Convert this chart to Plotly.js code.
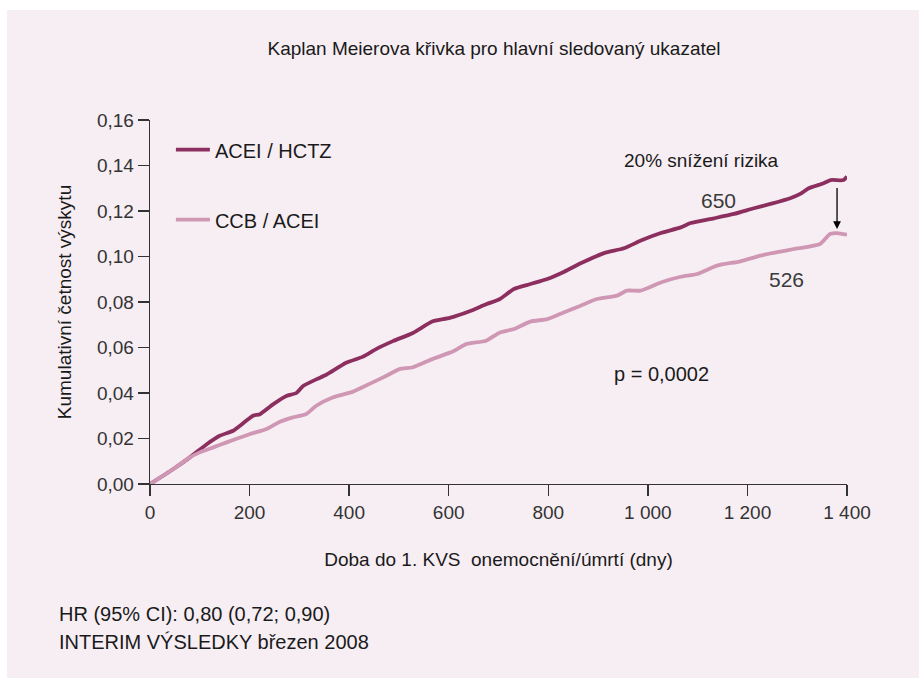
<!DOCTYPE html>
<html>
<head>
<meta charset="utf-8">
<script src="https://cdn.plot.ly/plotly-3.0.1.min.js"></script>
<style>
html,body{margin:0;padding:0;background:#ffffff;}
#chart{position:absolute;left:7px;top:10px;width:912px;height:668px;}
</style>
</head>
<body>
<div id="chart"></div>
<script>
// ---- data ----
const seriesNames = ["ACEI / HCTZ", "CCB / ACEI"];
const seriesColors = ["#8c2f5f", "#cf97b3"];

const daysA = [0,47,80,114,140,167,180,207,221,247,274,294,307,334,354,394,428,455,488,528,568,602,642,675,702,731,764,798,832,865,912,952,986,1026,1066,1086,1133,1173,1213,1246,1286,1306,1323,1353,1367,1393,1400];
const valsA = [0,0.0066,0.0117,0.0175,0.0212,0.0234,0.0255,0.0300,0.0307,0.0350,0.0387,0.0400,0.0430,0.0460,0.0480,0.0533,0.0560,0.0594,0.0628,0.0664,0.0715,0.0730,0.0759,0.0790,0.0812,0.0857,0.0879,0.0901,0.0933,0.0970,0.1015,0.1036,0.1070,0.1103,0.1128,0.1147,0.1168,0.1187,0.1212,0.1231,0.1256,0.1275,0.1300,0.1322,0.1336,0.1336,0.1352];

const daysB = [0,47,80,100,127,154,201,234,261,287,314,334,368,408,441,475,501,528,568,608,635,675,702,731,764,798,832,865,898,938,958,985,1026,1066,1099,1139,1186,1226,1266,1293,1346,1366,1380,1400];
const valsB = [0,0.0066,0.0117,0.0139,0.0161,0.0183,0.0220,0.0242,0.0274,0.0293,0.0308,0.0344,0.0381,0.0406,0.0440,0.0476,0.0505,0.0513,0.0550,0.0582,0.0615,0.0630,0.0665,0.0681,0.0714,0.0725,0.0755,0.0784,0.0813,0.0828,0.0850,0.0850,0.0886,0.0911,0.0923,0.0960,0.0979,0.1004,0.1021,0.1033,0.1055,0.1099,0.1103,0.1096];

const xTickVals = [0,200,400,600,800,1000,1200,1400];
const xTickText = ["0","200","400","600","800","1 000","1 200","1 400"];
const yTickVals = [0,0.02,0.04,0.06,0.08,0.10,0.12,0.14,0.16];
const yTickText = ["0,00","0,02","0,04","0,06","0,08","0,10","0,12","0,14","0,16"];

const titleText = "Kaplan Meierova křivka pro hlavní sledovaný ukazatel";
const xTitle = "Doba do 1. KVS&nbsp; onemocnění/úmrtí (dny)";
const yTitle = "Kumulativní četnost výskytu";
const riskText = "20% snížení rizika";
const countA = "650";
const countB = "526";
const pText = "p = 0,0002";
const footLines = ["HR (95% CI): 0,80 (0,72; 0,90)", "INTERIM VÝSLEDKY březen 2008"];
// arrow between curves near the end (day, from value, to value)
const arrowDay = 1380, arrowFrom = 0.1308, arrowTo = 0.1121;

const FONT = "Liberation Sans, Arial, Helvetica, sans-serif";
const BG = "#f7eef4";

const traces = [
  {x: daysA, y: valsA, name: seriesNames[0], legendgroup: "a", mode: "lines",
   line: {color: seriesColors[0], width: 3.8, shape: "spline", smoothing: 0.6}},
  {x: daysB, y: valsB, name: seriesNames[1], legendgroup: "b", mode: "lines",
   line: {color: seriesColors[1], width: 3.8, shape: "spline", smoothing: 0.6}}
];

const layout = {
  width: 912, height: 668,
  paper_bgcolor: BG, plot_bgcolor: BG,
  margin: {l: 143, r: 72, t: 110, b: 194},
  font: {family: FONT, color: "#222", size: 19},
  title: {text: titleText, font: {family: FONT, size: 19, color: "#1a1a1a"},
          x: 0.534, xanchor: "center", xref: "container", y: 1 - 38/668, yanchor: "middle"},
  showlegend: true,
  legend: {x: 0.03, y: 0.972, xanchor: "left", yanchor: "top", bgcolor: "rgba(0,0,0,0)",
           font: {family: FONT, size: 20, color: "#1a1a1a"}, traceorder: "grouped", tracegroupgap: 41,
           itemwidth: 34},
  xaxis: {range: [0, 1400], tickvals: xTickVals, ticktext: xTickText, showgrid: false, zeroline: false,
          showline: true, linecolor: "#333", linewidth: 1.3, ticks: "outside", ticklen: 11, tickwidth: 1.3, tickcolor: "#333",
          tickfont: {family: FONT, size: 19, color: "#333"},
          title: {text: xTitle, font: {family: FONT, size: 19, color: "#1a1a1a"}, standoff: 30}, fixedrange: true},
  yaxis: {range: [0, 0.16], tickvals: yTickVals, ticktext: yTickText, showgrid: false, zeroline: false,
          showline: true, linecolor: "#333", linewidth: 1.3, ticks: "outside", ticklen: 11, tickwidth: 1.3, tickcolor: "#333",
          tickfont: {family: FONT, size: 19, color: "#333"},
          title: {text: yTitle, font: {family: FONT, size: 19, color: "#1a1a1a"}, standoff: 20}, fixedrange: true},
  annotations: [
    {x: 1107, y: 0.142, xref: "x", yref: "y", text: riskText, showarrow: false,
     font: {family: FONT, size: 19, color: "#1a1a1a"}},
    {x: 1141, y: 0.1248, xref: "x", yref: "y", text: countA, showarrow: false,
     font: {family: FONT, size: 21, color: "#3a3a3a"}},
    {x: 1278, y: 0.0901, xref: "x", yref: "y", text: countB, showarrow: false,
     font: {family: FONT, size: 21, color: "#3a3a3a"}},
    {x: 1027, y: 0.0485, xref: "x", yref: "y", text: pText, showarrow: false,
     font: {family: FONT, size: 20, color: "#1a1a1a"}},
    {x: arrowDay, y: arrowTo, ax: arrowDay, ay: arrowFrom, xref: "x", yref: "y", axref: "x", ayref: "y",
     text: "", showarrow: true, arrowhead: 2, arrowsize: 1.2, arrowwidth: 1.3, arrowcolor: "#000"},
    {x: -0.133, y: (484.5 - 615) / 364.5, xref: "paper", yref: "paper", xanchor: "left", yanchor: "middle",
     text: footLines[0], showarrow: false, font: {family: FONT, size: 20, color: "#1a1a1a"}},
    {x: -0.133, y: (484.5 - 643) / 364.5, xref: "paper", yref: "paper", xanchor: "left", yanchor: "middle",
     text: footLines[1], showarrow: false, font: {family: FONT, size: 20, color: "#1a1a1a"}}
  ]
};

Plotly.newPlot("chart", traces, layout, {displayModeBar: false, staticPlot: true});
</script>
</body>
</html>
